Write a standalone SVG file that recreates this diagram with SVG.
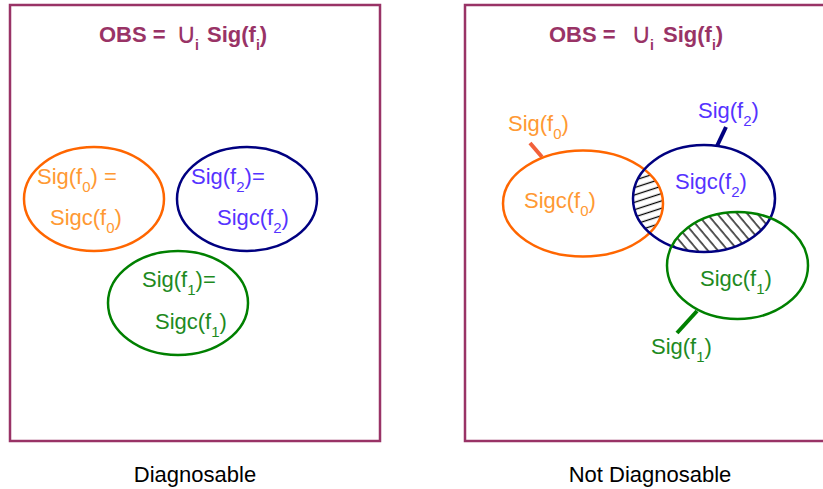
<svg xmlns="http://www.w3.org/2000/svg" width="823" height="489" viewBox="0 0 823 489">
<style>
text{font-family:"Liberation Sans",Arial,sans-serif;font-size:22px}
.title{font-weight:bold;fill:#993366;font-size:22px}
.cup{font-weight:normal;font-family:"DejaVu Sans",sans-serif;font-size:28px}
.frame{fill:none;stroke:#993366;stroke-width:2.5}
.e{fill:none;stroke-width:2.5}
.or{stroke:#ff6600}.nv{stroke:#000080}.gr{stroke:#008000}
.tor{fill:#ff9933}.tnv{fill:#5533ff}.tgr{fill:#1e8a1e}
.cap{fill:#000;text-anchor:middle;font-size:22px}
</style>
<defs>
<pattern id="h1" width="10" height="7" patternUnits="userSpaceOnUse" patternTransform="rotate(-18)">
<line x1="0" y1="3.5" x2="10" y2="3.5" stroke="#000" stroke-width="1.3"/>
</pattern>
<pattern id="h2" width="10" height="7.7" patternUnits="userSpaceOnUse" patternTransform="rotate(50)">
<line x1="0" y1="3.8" x2="10" y2="3.8" stroke="#000" stroke-width="1.3"/>
</pattern>
<clipPath id="cNavy"><ellipse cx="704" cy="198.5" rx="71" ry="53.5"/></clipPath>
</defs>

<g id="left-panel">
<rect class="frame" x="10" y="5" width="370" height="436"/>
<text class="title" x="99" y="42">OBS =<tspan class="cup" x="176" dy="1">∪</tspan><tspan font-size="14" x="195" dy="7">i</tspan><tspan x="207" dy="-8">Sig(f</tspan><tspan font-size="14" dy="8">i</tspan><tspan dy="-8">)</tspan></text>
<text class="cap" x="195" y="482">Diagnosable</text>
</g>

<g id="left-f0">
<ellipse class="e or" cx="94" cy="199" rx="70" ry="52"/>
<text class="tor" x="37" y="184">Sig(f<tspan font-size="15" dy="8">0</tspan><tspan dy="-8">) =</tspan></text>
<text class="tor" x="50" y="225">Sigc(f<tspan font-size="15" dy="8">0</tspan><tspan dy="-8">)</tspan></text>
</g>
<g id="left-f2">
<ellipse class="e nv" cx="247" cy="199" rx="70" ry="52"/>
<text class="tnv" x="191" y="184">Sig(f<tspan font-size="15" dy="8">2</tspan><tspan dy="-8">)=</tspan></text>
<text class="tnv" x="217" y="225">Sigc(f<tspan font-size="15" dy="8">2</tspan><tspan dy="-8">)</tspan></text>
</g>
<g id="left-f1">
<ellipse class="e gr" cx="178" cy="303" rx="70" ry="52"/>
<text class="tgr" x="142" y="287">Sig(f<tspan font-size="15" dy="8">1</tspan><tspan dy="-8">)=</tspan></text>
<text class="tgr" x="155" y="329">Sigc(f<tspan font-size="15" dy="8">1</tspan><tspan dy="-8">)</tspan></text>
</g>

<g id="right-panel">
<rect class="frame" x="465" y="5" width="370" height="436"/>
<text class="title" x="549" y="42">OBS =<tspan class="cup" x="631" dy="1">∪</tspan><tspan font-size="14" x="650" dy="7">i</tspan><tspan x="663" dy="-8">Sig(f</tspan><tspan font-size="14" dy="8">i</tspan><tspan dy="-8">)</tspan></text>
<text class="cap" x="650" y="482">Not Diagnosable</text>
</g>

<g id="hatching">
<g clip-path="url(#cNavy)">
<ellipse cx="583" cy="203.5" rx="80" ry="53" fill="url(#h1)"/>
<ellipse cx="737.5" cy="265.5" rx="70.5" ry="53.5" fill="url(#h2)"/>
</g>
</g>

<g id="connectors">
<line x1="530" y1="143" x2="542" y2="157" stroke="#f2603a" stroke-width="4"/>
<line x1="726" y1="127" x2="717" y2="146" stroke="#000080" stroke-width="4"/>
<line x1="697" y1="311" x2="677" y2="333" stroke="#008000" stroke-width="4"/>
</g>

<g id="right-f0">
<ellipse class="e or" cx="583" cy="203.5" rx="80" ry="53"/>
<text class="tor" x="524" y="208">Sigc(f<tspan font-size="15" dy="8">0</tspan><tspan dy="-8">)</tspan></text>
<text class="tor" x="508" y="131">Sig(f<tspan font-size="15" dy="8">0</tspan><tspan dy="-8">)</tspan></text>
</g>
<g id="right-f2">
<ellipse class="e nv" cx="704" cy="198.5" rx="71" ry="53.5"/>
<text class="tnv" x="675" y="189">Sigc(f<tspan font-size="15" dy="8">2</tspan><tspan dy="-8">)</tspan></text>
<text class="tnv" x="698" y="118">Sig(f<tspan font-size="15" dy="8">2</tspan><tspan dy="-8">)</tspan></text>
</g>
<g id="right-f1">
<ellipse class="e gr" cx="737.5" cy="265.5" rx="70.5" ry="53.5"/>
<text class="tgr" x="700" y="286">Sigc(f<tspan font-size="15" dy="8">1</tspan><tspan dy="-8">)</tspan></text>
<text class="tgr" x="651" y="354">Sig(f<tspan font-size="15" dy="8">1</tspan><tspan dy="-8">)</tspan></text>
</g>
</svg>
